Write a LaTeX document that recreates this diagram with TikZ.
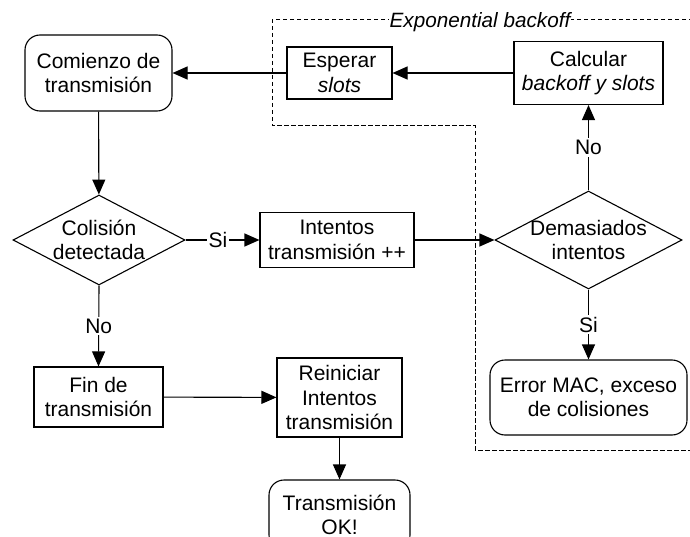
\documentclass[tikz,border=0pt]{standalone}
\usepackage{fontspec}
\setmainfont{Liberation Sans}
\usetikzlibrary{arrows.meta,shapes.geometric}

\tikzset{
  base/.style={draw=black, line width=1.1pt, align=center, inner sep=0pt,
    font=\fontsize{21pt}{24.5pt}\selectfont},
  process/.style={base, rectangle},
  terminal/.style={base, rectangle, rounded corners=15pt},
  decision/.style={draw=black, line width=1.1pt, diamond, inner sep=0pt},
  dtext/.style={align=center, inner sep=0pt, font=\fontsize{21pt}{24.5pt}\selectfont},
  flow/.style={line width=1.1pt, -{Triangle[length=15pt,width=13pt]}},
  elabel/.style={fill=white, inner sep=2pt, font=\fontsize{21pt}{24.5pt}\selectfont},
  region/.style={line width=1pt, dash pattern=on 4.5pt off 2.5pt},
}

\begin{document}
\begin{tikzpicture}[x=1pt, y=-1pt]
  \useasboundingbox (0,0) rectangle (690,537);
  \clip (0,0) rectangle (690,537);

  % dashed frame of the backoff stage and its title
  \coordinate (r1) at (700,20);
  \coordinate (r2) at (272,20);
  \coordinate (r3) at (272,126);
  \coordinate (r4) at (475,126);
  \coordinate (r5) at (475,450);
  \coordinate (r6) at (700,450);
  \draw[region] (r1) -- (r2) -- (r3) -- (r4) -- (r5) -- (r6);
  \node[fill=white, inner sep=1pt, anchor=base,
        font=\fontsize{20.7pt}{24pt}\selectfont\itshape] (title) at (480,27.5)
        {Exponential backoff};

  % nodes
  \node[terminal, minimum width=147pt, minimum height=76pt] (start) at (98.5,73)
       {Comienzo de\\transmisión};
  \node[process, minimum width=105pt, minimum height=52pt] (wait) at (339.5,73)
       {Esperar\\\textit{slots}};
  \node[process, minimum width=149pt, minimum height=63pt] (calc) at (588.5,73)
       {Calcular\\\textit{backoff y slots}};

  \node[decision, minimum width=172pt, minimum height=90pt] (coll) at (99,240) {};
  \node[dtext] (colltext) at (coll.center) {Colisión\\detectada};
  \node[process, minimum width=154pt, minimum height=55pt] (tries) at (337,240)
       {Intentos\\transmisión ++};
  \node[decision, minimum width=187pt, minimum height=98pt] (many) at (588.5,240) {};
  \node[dtext] (manytext) at (many.center) {Demasiados\\intentos};

  \node[process, minimum width=129pt, minimum height=60pt] (done) at (98.5,397)
       {Fin de\\transmisión};
  \node[process, minimum width=125pt, minimum height=79pt] (reset) at (339.5,397.5)
       {Reiniciar\\Intentos\\transmisión};
  \node[terminal, minimum width=197pt, minimum height=75pt] (err) at (588.5,397.5)
       {Error MAC, exceso\\de colisiones};
  \node[terminal, minimum width=141pt, minimum height=70pt] (ok) at (339.5,515)
       {Transmisión\\OK!};

  % connectors
  \draw[flow] (wait) -- (start);
  \draw[flow] (calc) -- (wait);
  \draw[flow] (start) -- (coll);
  \draw[flow] (coll.east) -- node[elabel, pos=0.44] {Si} (tries.west);
  \draw[flow] (coll.south) -- node[elabel] {No} (done.north);
  \draw[flow] (tries.east) -- (many.west);
  \draw[flow] (many.north) -- node[elabel] {No} (calc.south);
  \draw[flow] (many.south) -- node[elabel] {Si} (err.north);
  \draw[flow] (done) -- (reset);
  \draw[flow] (reset) -- (ok);
\end{tikzpicture}
\end{document}
